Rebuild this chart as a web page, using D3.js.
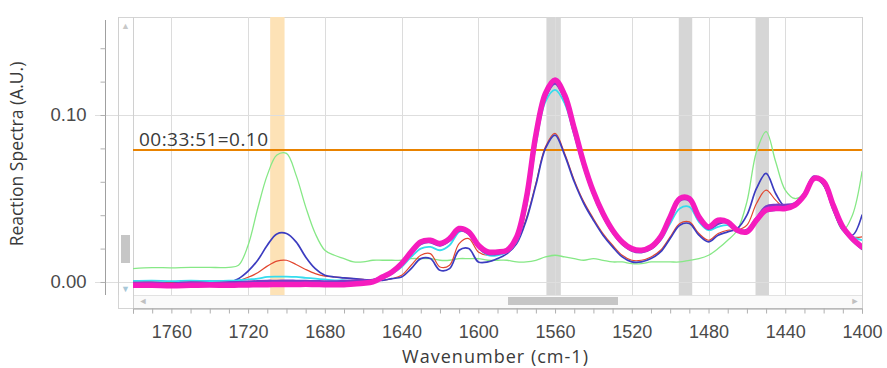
<!DOCTYPE html>
<html><head><meta charset="utf-8">
<script src="https://cdn.jsdelivr.net/npm/d3@7"></script>
<style>
html,body{margin:0;padding:0;background:#fff;}
svg{display:block;font-family:"Open Sans","Noto Sans",sans-serif;}
</style></head>
<body><svg id="c" width="887" height="368"></svg>
<script>
// ---- DATA ----
const wavenumbers = [1780,1770,1760,1750,1740,1730,1725,1720,1715,1710,1705,1700,1695,1690,1685,1680,1675,1670,1665,1660,1655,1650,1645,1640,1635,1630,1625,1620,1615,1610,1605,1600,1595,1590,1585,1580,1575,1570,1565,1560,1555,1550,1545,1540,1535,1530,1525,1520,1515,1510,1505,1500,1495,1490,1485,1480,1475,1470,1465,1460,1455,1450,1445,1440,1435,1430,1425,1420,1415,1410,1405,1400];
const greenSeries = [0.0080,0.0086,0.0085,0.0088,0.0087,0.0088,0.010,0.022,0.044,0.064,0.076,0.077,0.064,0.045,0.029,0.019,0.016,0.014,0.012,0.012,0.013,0.013,0.013,0.013,0.014,0.014,0.014,0.013,0.013,0.014,0.014,0.014,0.013,0.013,0.013,0.012,0.012,0.013,0.015,0.016,0.015,0.014,0.013,0.014,0.013,0.012,0.012,0.011,0.011,0.012,0.012,0.012,0.012,0.013,0.014,0.016,0.020,0.025,0.031,0.048,0.078,0.090,0.072,0.055,0.050,0.053,0.062,0.058,0.044,0.031,0.040,0.066];
const redSeries = [0.0,0.0,-0.0003,0.0,0.0,0.0,0.0008,0.0028,0.0055,0.0095,0.0125,0.013,0.0105,0.0075,0.005,0.0035,0.003,0.0025,0.002,0.0015,0.001,0.001,0.002,0.004,0.010,0.016,0.017,0.009,0.010,0.023,0.026,0.018,0.016,0.017,0.019,0.024,0.038,0.059,0.081,0.089,0.077,0.061,0.048,0.038,0.029,0.022,0.016,0.013,0.013,0.015,0.019,0.027,0.035,0.036,0.029,0.025,0.029,0.031,0.031,0.034,0.047,0.055,0.049,0.044,0.045,0.051,0.062,0.058,0.044,0.032,0.027,0.027];
const blueSeries = [-0.0008,-0.001,-0.0012,-0.0005,-0.0008,0.0,0.002,0.0065,0.013,0.022,0.0288,0.029,0.024,0.015,0.008,0.004,0.003,0.0025,0.002,0.0015,0.001,0.001,0.002,0.003,0.008,0.014,0.014,0.007,0.008,0.019,0.020,0.012,0.012,0.014,0.017,0.023,0.037,0.058,0.080,0.088,0.076,0.060,0.047,0.037,0.028,0.021,0.015,0.012,0.012,0.014,0.018,0.026,0.034,0.035,0.028,0.024,0.028,0.030,0.032,0.040,0.056,0.065,0.053,0.045,0.046,0.051,0.062,0.058,0.043,0.031,0.028,0.040];
const cyanSeries = [0.0006,0.0008,0.0005,0.0008,0.0006,0.0008,0.001,0.0015,0.002,0.003,0.0032,0.0032,0.003,0.0025,0.002,0.0015,0.001,0.001,0.0005,0.0,0.0005,0.002,0.005,0.009,0.015,0.020,0.021,0.019,0.022,0.030,0.031,0.021,0.016,0.016,0.018,0.024,0.045,0.082,0.108,0.115,0.107,0.088,0.068,0.052,0.039,0.030,0.023,0.019,0.018,0.020,0.025,0.035,0.044,0.045,0.036,0.031,0.033,0.034,0.030,0.031,0.037,0.042,0.043,0.044,0.046,0.052,0.062,0.059,0.045,0.031,0.027,0.025];
const purpleSeries = [-0.0008,-0.0006,-0.0012,-0.0004,-0.0009,-0.0005,-0.0003,0.0,0.0003,0.0005,0.0005,0.0006,0.0005,0.0004,0.0003,0.0002,0.0002,0.0004,0.0006,0.0008,0.001,0.003,0.006,0.011,0.017,0.023,0.024,0.022,0.025,0.031,0.029,0.021,0.017,0.017,0.019,0.025,0.048,0.086,0.111,0.119,0.110,0.090,0.070,0.053,0.040,0.030,0.023,0.019,0.018,0.020,0.026,0.038,0.049,0.049,0.038,0.032,0.035,0.036,0.031,0.031,0.038,0.045,0.046,0.046,0.047,0.053,0.063,0.059,0.045,0.032,0.025,0.020];
const magentaSeries = [-0.002,-0.002,-0.0022,-0.002,-0.0018,-0.002,-0.0018,-0.0018,-0.0016,-0.0016,-0.0015,-0.0015,-0.0015,-0.0014,-0.0015,-0.0016,-0.0016,-0.0016,-0.0012,-0.0008,0.0,0.003,0.006,0.011,0.018,0.024,0.025,0.023,0.026,0.032,0.030,0.022,0.018,0.018,0.019,0.027,0.050,0.088,0.113,0.121,0.112,0.092,0.071,0.054,0.041,0.031,0.024,0.020,0.019,0.021,0.027,0.039,0.050,0.050,0.039,0.033,0.037,0.036,0.031,0.030,0.037,0.043,0.044,0.044,0.046,0.052,0.062,0.060,0.046,0.033,0.026,0.021];
const xTickLabels = [1760,1720,1680,1640,1600,1560,1520,1480,1440,1400];
const yTickLabels = [0.00, 0.10];
const bandStart = [1708.5, 1564.5, 1495.5, 1455.5];
const bandEnd   = [1701.0, 1557.0, 1488.5, 1448.5];
const markerValue = 0.079;
const markerLabel = "00:33:51=0.10";
const xTitle = "Wavenumber (cm-1)";
const yTitle = "Reaction Spectra (A.U.)";

// ---- CHART ----
const svg = d3.select("#c");
const L = 133, R = 862, T = 17, B = 295;
const x = d3.scaleLinear().domain([1780, 1400]).range([L, R]);
const y = d3.scaleLinear().domain([-0.0078, 0.1587]).range([B, T]);

// frames
svg.append("rect").attr("x", 118.5).attr("y", T + .5).attr("width", R - 118).attr("height", 308 - T)
  .attr("fill", "#fff").attr("stroke", "#d4d4d4");

// bands
const bandColors = ["#fde2b6", "#d6d6d6", "#d6d6d6", "#d6d6d6"];
svg.append("g").selectAll("rect").data(bandStart).join("rect")
  .attr("x", (d, i) => x(d)).attr("width", (d, i) => x(bandEnd[i]) - x(d))
  .attr("y", T).attr("height", B - T)
  .attr("fill", (d, i) => bandColors[i]);

// grid
const grid = svg.append("g");
grid.selectAll("line.v").data(xTickLabels).join("line")
  .attr("x1", d => Math.round(x(d)) + .5).attr("x2", d => Math.round(x(d)) + .5)
  .attr("y1", T).attr("y2", B).attr("stroke", "#dcdcdc").attr("stroke-width", 1);
grid.selectAll("line.h").data(yTickLabels).join("line")
  .attr("x1", 95).attr("x2", R).attr("y1", d => Math.round(y(d)) + .5).attr("y2", d => Math.round(y(d)) + .5)
  .attr("stroke", "#dedede");
svg.append("line").attr("x1", L).attr("x2", R).attr("y1", B + .5).attr("y2", B + .5).attr("stroke", "#e2e2e2");
svg.append("line").attr("x1", L + .5).attr("x2", L + .5).attr("y1", T).attr("y2", 308).attr("stroke", "#d0d0d0");

// marker line
svg.append("line").attr("x1", L).attr("x2", R).attr("y1", y(markerValue)).attr("y2", y(markerValue))
  .attr("stroke", "#e98300").attr("stroke-width", 2);
svg.append("text").attr("x", 139).attr("y", y(markerValue) - 4).text(markerLabel)
  .attr("font-size", 19).attr("fill", "#3a3a3a").attr("textLength", 129);

// series
const line = d3.line().x((d, i) => x(wavenumbers[i])).y(d => y(d)).curve(d3.curveCatmullRom.alpha(0.5));
const series = [
  {v: greenSeries, c: "#86e886", w: 1.3},
  {v: redSeries, c: "#e2472f", w: 1.2},
  {v: blueSeries, c: "#3c3cc0", w: 1.7},
  {v: cyanSeries, c: "#35dcee", w: 1.8},
  {v: purpleSeries, c: "#7a3cc8", w: 3},
  {v: magentaSeries, c: "#f51cbe", w: 5.5}
];
svg.append("clipPath").attr("id", "pc").append("rect").attr("x", L).attr("y", T).attr("width", R - L).attr("height", B - T);
svg.append("g").attr("clip-path", "url(#pc)").selectAll("path").data(series).join("path")
  .attr("d", d => line(d.v)).attr("fill", "none").attr("stroke", d => d.c)
  .attr("stroke-width", d => d.w).attr("stroke-linejoin", "round").attr("stroke-linecap", "round");

// vertical scrollbar
svg.append("line").attr("x1", 118.5).attr("x2", 118.5).attr("y1", T).attr("y2", B).attr("stroke", "#d0d0d0");
svg.append("rect").attr("x", 121).attr("y", 235).attr("width", 9).attr("height", 28).attr("fill", "#c6c6c6");
svg.append("text").attr("x", 125.5).attr("y", 29).attr("text-anchor", "middle").attr("font-size", 9).attr("fill", "#c8c8c8").text("▲");
svg.append("text").attr("x", 125.5).attr("y", 292).attr("text-anchor", "middle").attr("font-size", 9).attr("fill", "#a8c8d8").text("▼");
// horizontal scrollbar
svg.append("rect").attr("x", L + 1).attr("y", B + 1).attr("width", R - L - 1).attr("height", 12).attr("fill", "#fafafa");
svg.append("rect").attr("x", 508).attr("y", 297).attr("width", 110).attr("height", 8).attr("fill", "#c6c6c6");
svg.append("text").attr("x", 143).attr("y", 304).attr("text-anchor", "middle").attr("font-size", 9).attr("fill", "#c0c0c0").text("◄");
svg.append("text").attr("x", 855).attr("y", 304).attr("text-anchor", "middle").attr("font-size", 9).attr("fill", "#c0c0c0").text("►");
svg.append("line").attr("x1", R + .5).attr("x2", R + .5).attr("y1", T).attr("y2", 308).attr("stroke", "#d0d0d0");

// x axis
const xAxis = d3.axisBottom(x).tickValues(d3.range(1780, 1399, -10)).tickSize(5)
  .tickFormat(d => xTickLabels.includes(d) ? d : "");
const gx = svg.append("g").attr("transform", "translate(0,308.5)").call(xAxis);
gx.select(".domain").attr("stroke", "#a0a0a0");
gx.selectAll(".tick line").attr("stroke", "#b0b0b0");
gx.selectAll("text").attr("font-size", 18).attr("fill", "#4a4a4a").attr("y", 29.5).attr("dy", 0).attr("font-family", "inherit");

// y axis
const yAxis = d3.axisLeft(y).tickValues(d3.range(0, 0.141, 0.02)).tickSize(5)
  .tickFormat(d => (Math.abs(d) < 1e-9 || Math.abs(d - 0.1) < 1e-9) ? d3.format(".2f")(d) : "");
const gy = svg.append("g").attr("transform", "translate(105.5,0)").call(yAxis);
gy.select(".domain").attr("stroke", "#a0a0a0").attr("d", `M-0,${20}V${B}`);
gy.selectAll(".tick line").attr("stroke", "#b0b0b0");
gy.selectAll("text").attr("font-size", 18.5).attr("fill", "#4a4a4a").attr("x", -19).attr("font-family", "inherit");

// titles
svg.append("text").attr("x", 495).attr("y", 363).attr("text-anchor", "middle")
  .attr("font-size", 18).attr("fill", "#3a3a3a").attr("textLength", 186).text(xTitle);
svg.append("text").attr("transform", "translate(23,154) rotate(-90)").attr("text-anchor", "middle")
  .attr("font-size", 17.5).attr("fill", "#3a3a3a").text(yTitle);
</script></body></html>
